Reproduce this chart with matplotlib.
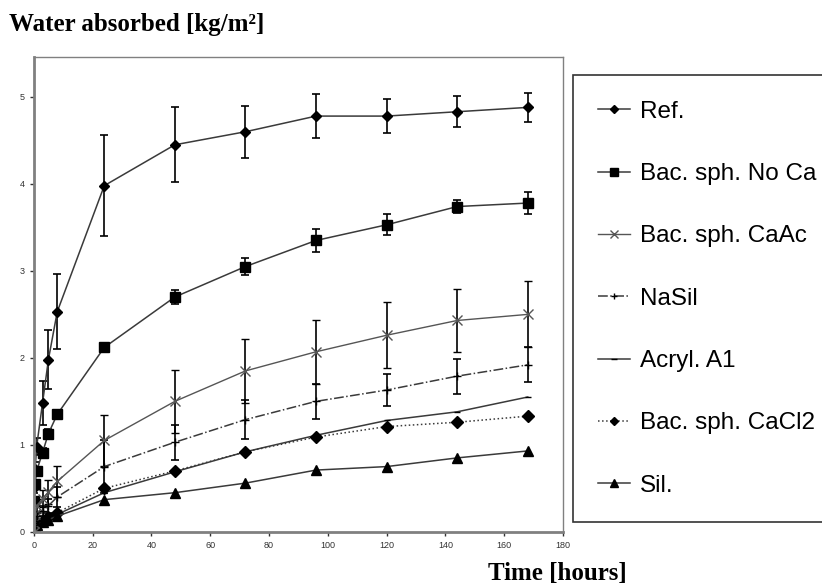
import matplotlib
matplotlib.use('Agg')
import matplotlib.pyplot as plt
import numpy as np

# Tempos de medição (horas)
tempos = [0, 0.25, 0.5, 1, 3, 5, 8, 24, 48, 72, 96, 120, 144, 168]

# Séries (kg/m²)
ref = [0, 0.5, 0.72, 0.98, 1.48, 1.98, 2.53, 3.98, 4.45, 4.6, 4.78, 4.78, 4.83, 4.88]
ref_err = [0, 0.05, 0.08, 0.1, 0.25, 0.34, 0.43, 0.58, 0.43, 0.3, 0.25, 0.2, 0.18, 0.17]

no_ca = [0, 0.35, 0.55, 0.7, 0.91, 1.13, 1.35, 2.12, 2.7, 3.05, 3.35, 3.53, 3.74, 3.78]
no_ca_err = [0, 0.03, 0.05, 0.05, 0.05, 0.05, 0.05, 0.05, 0.08, 0.1, 0.13, 0.12, 0.08, 0.13]

caac = [0, 0.1, 0.2, 0.3, 0.38, 0.46, 0.58, 1.05, 1.5, 1.85, 2.07, 2.26, 2.43, 2.5]
caac_err = [0, 0.02, 0.04, 0.08, 0.1, 0.14, 0.18, 0.29, 0.36, 0.37, 0.37, 0.38, 0.36, 0.38]

nasil = [0, 0.08, 0.12, 0.18, 0.24, 0.3, 0.4, 0.75, 1.03, 1.29, 1.5, 1.63, 1.79, 1.92]
nasil_err = [0, 0.02, 0.03, 0.04, 0.06, 0.08, 0.12, 0.3, 0.2, 0.22, 0.2, 0.18, 0.2, 0.2]

acryl = [0, 0.03, 0.05, 0.08, 0.12, 0.15, 0.2, 0.45, 0.69, 0.92, 1.11, 1.28, 1.38, 1.55]
cacl2 = [0, 0.04, 0.06, 0.1, 0.13, 0.17, 0.22, 0.5, 0.7, 0.92, 1.09, 1.21, 1.26, 1.33]
sil = [0, 0.03, 0.05, 0.08, 0.11, 0.14, 0.18, 0.37, 0.45, 0.56, 0.71, 0.75, 0.85, 0.93]

nomes = ['Ref.', 'Bac. sph. No Ca', 'Bac. sph. CaAc', 'NaSil', 'Acryl. A1',
         'Bac. sph. CaCl2', 'Sil.']

fig = plt.figure(figsize=(8.22, 5.87), dpi=100)
ax = fig.add_axes([0.041, 0.094, 0.644, 0.809])

cor_linha = '#3a3a3a'
eb = dict(ecolor='black', elinewidth=1.2, capsize=3, capthick=1.2)

h1 = ax.errorbar(tempos, ref, yerr=ref_err, color=cor_linha, lw=1.1, marker='D',
                 ms=5.5, mfc='black', mec='black', **eb)
h2 = ax.errorbar(tempos, no_ca, yerr=no_ca_err, color=cor_linha, lw=1.1, marker='s',
                 ms=7, mfc='black', mec='black', **eb)
h3 = ax.errorbar(tempos, caac, yerr=caac_err, color='#555555', lw=1.0, marker='x',
                 ms=7, mfc='none', mec='#555555', mew=1.0, **eb)
h4 = ax.errorbar(tempos, nasil, yerr=nasil_err, color=cor_linha, lw=1.1, ls='-.',
                 marker='+', ms=6, mec='black', **eb)
h5, = ax.plot(tempos, acryl, color=cor_linha, lw=1.1, marker='_', ms=5, mec='black')
h6, = ax.plot(tempos, cacl2, color=cor_linha, lw=1.1, ls=':', marker='D',
              ms=6, mfc='black', mec='black')
h7, = ax.plot(tempos, sil, color=cor_linha, lw=1.1, marker='^', ms=7,
              mfc='black', mec='black')

ax.set_xlim(0, 180)
ax.set_ylim(0, 5.46)
ax.set_xticks(range(0, 181, 20))
ax.set_yticks(range(0, 6))
ax.tick_params(direction='out', length=3, width=1, labelsize=6.5, colors='#333333')
for lbl in ax.get_xticklabels() + ax.get_yticklabels():
    lbl.set_family('Liberation Sans')
for s in ax.spines.values():
    s.set_color('#808080')
    s.set_linewidth(1)
ax.spines['left'].set_linewidth(2)
ax.spines['bottom'].set_linewidth(2)

# Títulos dos eixos
fig.text(0.011, 0.947, 'Water absorbed [kg/m²]', family='Liberation Serif',
         fontweight='bold', fontsize=18, va='baseline', ha='left')
fig.text(0.678, 0.012, 'Time [hours]', family='Liberation Serif',
         fontweight='bold', fontsize=18, va='baseline', ha='center')

# Legenda (só a linha, sem barras de erro)
handles = [h1[0], h2[0], h3[0], h4[0], h5, h6, h7]
leg = fig.legend(handles, nomes, loc='upper left', bbox_to_anchor=(0.697, 0.872),
                 prop={'family': 'Liberation Sans', 'size': 17.5}, frameon=True,
                 fancybox=False, edgecolor='black', labelspacing=1.66,
                 handlelength=1.3, handletextpad=0.4, borderpad=1.05,
                 borderaxespad=0, markerscale=0.75)
leg.get_frame().set_linewidth(1.2)

plt.savefig('out.png', dpi=100)
